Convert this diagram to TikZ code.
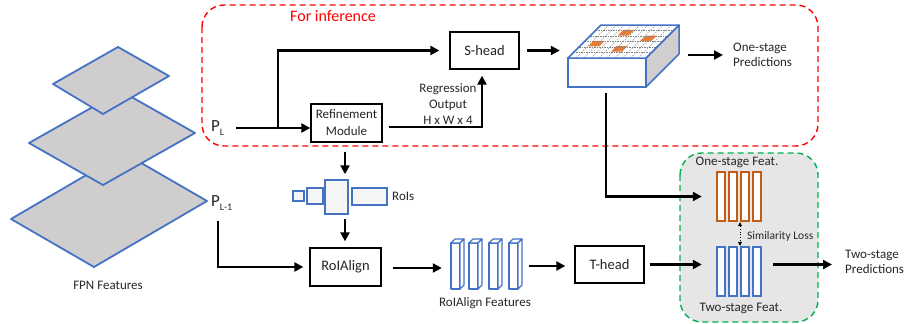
\documentclass[tikz,border=0pt]{standalone}
\usepackage{fontspec}
\setmainfont{Carlito}
\usetikzlibrary{arrows.meta,calc}
\definecolor{myblue}{HTML}{4472C4}
\definecolor{myorange}{HTML}{ED7D31}
\definecolor{darkorange}{HTML}{C55A11}
\definecolor{mygreen}{HTML}{00B050}
\definecolor{lgray}{HTML}{E7E6E6}
\definecolor{fpngray}{HTML}{CFCDCD}
\definecolor{sidegray}{HTML}{D0CECE}
\definecolor{txt}{HTML}{262626}
\begin{document}
\begin{tikzpicture}[x=1pt,y=-1pt,
  box/.style={draw=black,line width=1.3pt,fill=white,inner sep=0pt,text=txt,font=\fontsize{14.5}{16}\selectfont,align=center},
  arr/.style={line width=2.2pt,-{Triangle[length=9pt,width=9pt]}},
  lbl/.style={font=\fontsize{13}{15.5}\selectfont,inner sep=0pt,text=txt},
  plane/.style={draw=myblue,line width=1.8pt,fill=fpngray,line join=round},
  roibox/.style={draw=myblue,line width=1.5pt,fill=gray!8,inner sep=0pt},
  featbar/.style={draw=myblue,line width=1.2pt,fill=white,line join=round},
  obar/.style={draw=darkorange,line width=2.4pt,fill=white},
  bbar/.style={draw=myblue,line width=2.4pt,fill=white},
  hold/.style={inner sep=0pt,minimum width=#1},
]
\useasboundingbox (0,0) rectangle (906,324);

% inference region
\draw[red,line width=1.4pt,dash pattern=on 6pt off 4pt,rounded corners=22pt] (202,5) rectangle (818,146);
\node[anchor=west,inner sep=0pt,text=red,font=\fontsize{16}{16}\selectfont] (inf) at (290,16) {For inference};

% green region
\draw[mygreen,fill=lgray,line width=1.4pt,dash pattern=on 6pt off 4pt,rounded corners=22pt] (680,153) rectangle (818,322);

% FPN planes
\draw[plane] (124,153) -- (207,201) -- (94,267) -- (11,219) -- cycle;
\draw[plane] (121,91) -- (195,133) -- (103,185) -- (29,143) -- cycle;
\draw[plane] (118,47) -- (169,76) -- (103,114) -- (53,84) -- cycle;
\node[lbl] (fpn) at (108,285) {FPN Features};

% P labels
\node[anchor=west,inner sep=0pt,text=txt] (pl) at (211,128) {\fontsize{17}{17}\selectfont P\raisebox{-4pt}{\fontsize{10}{10}\selectfont L}};
\node[anchor=west,inner sep=0pt,text=txt] (pl1) at (211,203) {\fontsize{17}{17}\selectfont P\raisebox{-4pt}{\fontsize{10}{10}\selectfont L-1}};

% boxes
\node[box,minimum width=69pt,minimum height=37pt] (shead) at (484.5,50.5) {S-head};
\node[box,minimum width=71pt,minimum height=38pt,font=\fontsize{13}{17}\selectfont] (ref) at (346.5,123) {Refinement\\Module};
\node[box,minimum width=71pt,minimum height=38pt] (roialign) at (345.5,267) {RoIAlign};
\node[box,minimum width=69pt,minimum height=37pt] (thead) at (609.5,264.5) {T-head};

% arrows from P_L
\coordinate (br) at (278,128);
\draw[arr,shorten <=12pt] (pl.east) -- (pl.east -| ref.west);
\draw[arr,shorten >=10pt] (br) |- (shead.west);
\draw[arr,shorten <=6pt,shorten >=6pt] ([yshift=-4pt]ref.east) -| ([xshift=-2.5pt]shead.south);
\node[lbl,align=center,font=\fontsize{13}{16}\selectfont] (reg) at (448,104) {Regression\\Output\\H x W x 4};

% cube
\draw[myblue,line width=1.5pt,fill=white] (568,58) rectangle (646,87);
\draw[myblue,line width=1.5pt,fill=sidegray,line join=round] (646,58) -- (679,25) -- (679,54) -- (646,87) -- cycle;
\fill[white] (568,58) -- (601,25) -- (679,25) -- (646,58) -- cycle;
\begin{scope}[shift={(568,58)},x={(78pt,0pt)},y={(33pt,33pt)}]
  \foreach \u/\v in {0.35/0.68,0.71/0.51,0.11/0.35,0.47/0.19}
    \fill[myorange] (\u,\v) -- ++(0.14,0) -- ++(0,0.17) -- ++(-0.14,0) -- cycle;
  \foreach \i in {1,...,9}
    \draw[gray,line width=0.4pt,dash pattern=on 1.5pt off 1pt] (\i/10,0) -- (\i/10,1);
  \foreach \j in {1,...,5}
    \draw[gray,line width=0.4pt,dash pattern=on 1.5pt off 1pt] (0,\j/6) -- (1,\j/6);
\end{scope}
\draw[myblue,line width=1.5pt,line join=round] (568,58) -- (601,25) -- (679,25) -- (646,58) -- cycle;
\node[hold=111pt,minimum height=62pt] (cube) at (623.5,56) {};

\draw[arr,shorten <=7pt,shorten >=8pt] (shead.east) -- (shead.east -| cube.west);
\node[lbl,anchor=west,align=left] (osp) at (733,55) {One-stage\\Predictions};
\draw[arr,shorten <=9pt,shorten >=10pt] (cube.east |- osp.west) -- (osp.west);

% one-stage / two-stage feats
\node[hold=47pt,minimum height=51pt] (osf) at (739.5,196.5) {};
\node[hold=47pt,minimum height=51pt] (tsf) at (739.5,271.5) {};
\foreach \x in {716,728,740,752}{
  \draw[obar] (\x+1.2,172.2) rectangle (\x+8.8,220.8);
  \draw[bbar] (\x+1.2,247.2) rectangle (\x+8.8,295.8);
}
\node[lbl] (osft) at (737,162) {One-stage Feat.};
\node[lbl] (tsft) at (741,308) {Two-stage Feat.};
\draw[line width=0.8pt,dotted,{Triangle[length=4pt,width=4pt]}-{Triangle[length=4pt,width=4pt]}] ([xshift=0.5pt]osf.south) -- ([xshift=0.5pt]tsf.north);
\node[lbl,anchor=west,font=\fontsize{11.5}{12}\selectfont] (sim) at (747,236) {Similarity Loss};

\draw[arr,shorten <=6pt,shorten >=14pt] ([xshift=-17.5pt]cube.south) |- (osf.west);

% RoIs
\node[roibox,minimum width=11pt,minimum height=10pt] (roi1) at (298.5,196) {};
\node[roibox,minimum width=16pt,minimum height=16pt] (roi2) at (315,196) {};
\node[roibox,minimum width=23pt,minimum height=34pt] (roi3) at (336.5,197) {};
\node[roibox,minimum width=35pt,minimum height=17pt] (roi4) at (369.5,196.5) {};
\node[lbl,anchor=west] (rois) at (392,196) {RoIs};
\draw[arr,shorten <=9pt,shorten >=5pt] ([xshift=-1.5pt]ref.south) -- ([xshift=-1.5pt]ref.south |- roi3.north);
\draw[arr,shorten <=4pt,shorten >=6pt] ([xshift=-0.5pt]roialign.north |- roi3.south) -- ([xshift=-0.5pt]roialign.north);

% P_{L-1} to RoIAlign
\coordinate (pl1b) at (218,221);
\draw[arr,shorten >=6pt] (pl1b) |- (roialign.west);

% RoIAlign features
\foreach \x in {451,469,489,509}{
  \draw[featbar] (\x,243) rectangle (\x+9,289);
  \draw[featbar] (\x,243) -- (\x+4,239) -- (\x+13,239) -- (\x+9,243) -- cycle;
  \draw[featbar] (\x+9,243) -- (\x+13,239) -- (\x+13,285) -- (\x+9,289) -- cycle;
}
\node[hold=67pt,minimum height=50pt] (feat) at (484.5,264) {};
\node[lbl] (featl) at (485,303) {RoIAlign Features};
\draw[arr,shorten <=11pt,shorten >=9pt] ([yshift=-1pt]roialign.east) -- ([yshift=-1pt]roialign.east -| feat.west);
\draw[arr,shorten <=11pt,shorten >=9pt] ([yshift=-1.5pt]thead.west -| feat.east) -- ([yshift=-1.5pt]thead.west);

% T-head to two-stage
\draw[arr,shorten <=5pt,shorten >=14pt] (thead.east) -- (thead.east -| tsf.west);
\node[lbl,anchor=west,align=left] (tsp) at (845,262) {Two-stage\\Predictions};
\draw[arr,shorten <=10pt,shorten >=13pt] (thead.east -| tsf.east) -- (thead.east -| tsp.west);
\end{tikzpicture}
\end{document}
